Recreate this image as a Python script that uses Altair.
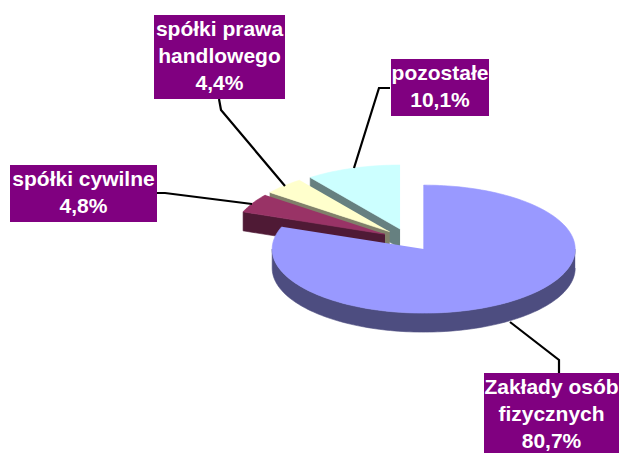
import math
import altair as alt
import pandas as pd

# ---- data ----
categories = ["Zakłady osób fizycznych", "spółki cywilne", "spółki prawa handlowego", "pozostałe"]
shares = [80.7, 4.8, 4.4, 10.1]
value_labels = ["80,7%", "4,8%", "4,4%", "10,1%"]
label_names = ["Zakłady osób\nfizycznych", "spółki cywilne", "spółki prawa\nhandlowego", "pozostałe"]

# ---- styles ----
top_colors = ["#9999FF", "#993366", "#FFFFCC", "#CCFFFF"]
side_colors = ["#4D4D80", "#4F1A35", "#80806A", "#668080"]
box_color = "#800080"

# ---- layout (page pixels) ----
W, H = 611, 445
CX, CY = 408.4, 239.8     # pie centre (top face)
RX, RY = 151.5, 64.0      # ellipse radii
DEPTH = 19                # thickness
EXPLODE = 0.177           # explosion as fraction of radius
LINE_H = 27

label_boxes = [  # x0, x1, y0, y1
    (484, 619, 373, 456),
    (10, 157, 165, 222),
    (154, 285, 15, 99),
    (391, 489, 59, 116),
]
leaders = [
    [(510, 322), (559, 360), (559, 373)],
    [(157, 193), (165, 193), (252, 204)],
    [(219, 99), (221, 110), (285, 186)],
    [(390, 88), (379, 88), (354, 168)],
]

# ---- geometry built from the shares ----
total = sum(shares)
starts, ends = [], []
acc = 0.0
for v in shares:
    starts.append(acc * 360 / total)
    acc += v
    ends.append(acc * 360 / total)

centers = []
for s, e in zip(starts, ends):
    m = math.radians((s + e) / 2)
    centers.append((CX + EXPLODE * RX * math.sin(m), CY - EXPLODE * RY * math.cos(m)))


def pt(c, th, dy=0.0):
    r = math.radians(th)
    return (c[0] + RX * math.sin(r), c[1] - RY * math.cos(r) + dy)


def arc(c, a0, a1, dy=0.0):
    n = max(2, int(abs(a1 - a0) / 1.5) + 2)
    return [pt(c, a0 + (a1 - a0) * k / (n - 1), dy) for k in range(n)]


polys = []  # (points, colour) in drawing order, back to front
for idx in [3, 2, 1]:
    c = centers[idx]
    s, e = starts[idx], ends[idx]
    p_top = pt(c, s)
    wall = [c, p_top, (p_top[0], p_top[1] + DEPTH), (c[0], c[1] + DEPTH)]
    polys.append((wall, side_colors[idx]))
    polys.append(([c] + arc(c, s, e), top_colors[idx]))

c0 = centers[0]
side = arc(c0, 90, 270) + arc(c0, 270, 90, DEPTH)
polys.append((side, side_colors[0]))
polys.append(([c0] + arc(c0, starts[0], ends[0]), top_colors[0]))

xs = alt.Scale(domain=[8, 8 + W])
ys = alt.Scale(domain=[8, 8 + H], reverse=True)

layers = []
for pid, (pts, col) in enumerate(polys):
    df = pd.DataFrame({"i": range(len(pts)), "x": [p[0] for p in pts], "y": [p[1] for p in pts]})
    layers.append(
        alt.Chart(df).mark_line(filled=True, color=col, stroke=col, strokeWidth=0.6).encode(
            x=alt.X("x:Q", scale=xs, axis=None),
            y=alt.Y("y:Q", scale=ys, axis=None),
            order="i:Q",
        )
    )

lrows = []
for k, line in enumerate(leaders):
    for i, (x, y) in enumerate(line):
        lrows.append({"lid": k, "i": i, "x": x, "y": y})
layers.append(
    alt.Chart(pd.DataFrame(lrows)).mark_line(color="black", strokeWidth=2.2).encode(
        x=alt.X("x:Q", scale=xs, axis=None),
        y=alt.Y("y:Q", scale=ys, axis=None),
        detail="lid:N",
        order="i:Q",
    )
)

txts = [n + "\n" + v for n, v in zip(label_names, value_labels)]
bdf = pd.DataFrame({
    "cat": categories,
    "x0": [b[0] for b in label_boxes],
    "x1": [b[1] for b in label_boxes],
    "y0": [b[2] for b in label_boxes],
    "y1": [b[3] for b in label_boxes],
    "txt": txts,
    "nl": [t.count("\n") for t in txts],
})
bdf["xc"] = (bdf["x0"] + bdf["x1"]) / 2
bdf["yt"] = (bdf["y0"] + bdf["y1"]) / 2 - bdf["nl"] * LINE_H / 2

layers.append(
    alt.Chart(bdf).mark_rect(color=box_color).encode(
        x=alt.X("x0:Q", scale=xs, axis=None), x2="x1:Q",
        y=alt.Y("y0:Q", scale=ys, axis=None), y2="y1:Q",
    )
)
layers.append(
    alt.Chart(bdf).mark_text(
        color="white", font="Liberation Sans", fontWeight="bold", fontSize=21,
        lineBreak="\n", lineHeight=LINE_H, align="center", baseline="middle",
    ).encode(
        x=alt.X("xc:Q", scale=xs, axis=None),
        y=alt.Y("yt:Q", scale=ys, axis=None),
        text="txt:N",
    )
)

chart = alt.layer(*layers).properties(
    width=W, height=H, padding=0, autosize="none", background="white"
).configure_view(stroke=None)

chart.save("out.html", embed_options={"renderer": "svg", "actions": False})
